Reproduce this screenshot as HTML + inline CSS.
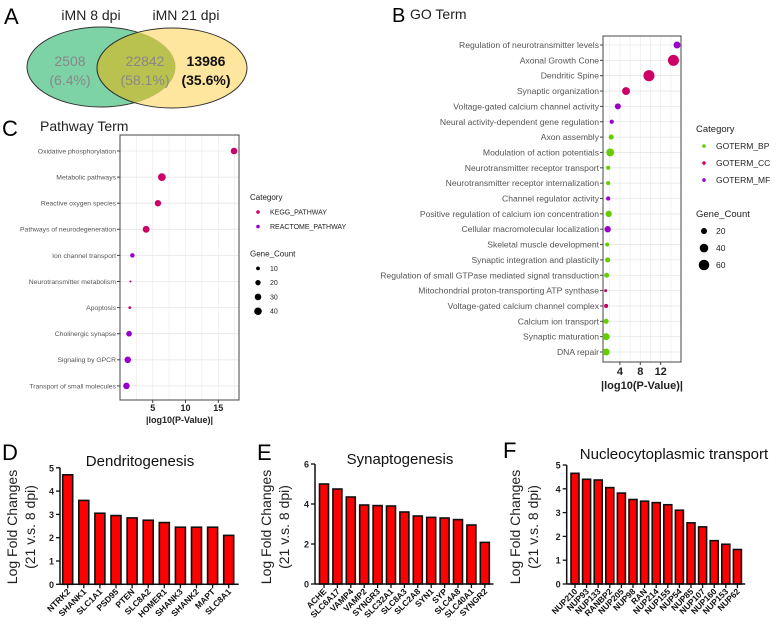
<!DOCTYPE html>
<html><head><meta charset="utf-8"><style>
html,body{margin:0;padding:0;background:#fff;}
svg{display:block;font-family:"Liberation Sans",sans-serif;}
</style></head><body>
<svg id="fig" width="777" height="627" viewBox="0 0 777 627">
<g>
<text x="4" y="24" font-size="22">A</text>
<text x="91" y="20" font-size="14" text-anchor="middle" fill="#222">iMN 8 dpi</text>
<text x="186" y="20" font-size="14" text-anchor="middle" fill="#222">iMN 21 dpi</text>
<ellipse cx="101" cy="67" rx="74" ry="40" fill="#7dd3a6" stroke="#333" stroke-width="1"/>
<ellipse cx="172" cy="68" rx="75" ry="40" fill="#fedd7e" fill-opacity="0.75" stroke="#333" stroke-width="1"/>
<clipPath id="cg"><ellipse cx="101" cy="67" rx="74" ry="40"/></clipPath>
<ellipse cx="172" cy="68" rx="75" ry="40" fill="#b9c24e" clip-path="url(#cg)" stroke="#333"/>
<text x="70" y="66" font-size="14" text-anchor="middle" fill="#888">2508</text>
<text x="70" y="85" font-size="14" text-anchor="middle" fill="#888">(6.4%)</text>
<text x="145" y="66" font-size="14" text-anchor="middle" fill="#888">22842</text>
<text x="145" y="85" font-size="14" text-anchor="middle" fill="#888">(58.1%)</text>
<text x="206" y="66" font-size="14" font-weight="bold" text-anchor="middle" fill="#111">13986</text>
<text x="206" y="85" font-size="14" font-weight="bold" text-anchor="middle" fill="#111">(35.6%)</text>
</g>
<text x="392" y="22" font-size="20">B</text>
<text x="410" y="19" font-size="14" fill="#222">GO Term</text>
<text x="2" y="136" font-size="22">C</text>
<text x="40" y="131" font-size="14" fill="#222">Pathway Term</text>
<g id="gB"></g><g id="gC"></g><g id="gD"></g><g id="gE"></g><g id="gF"></g>
</svg>
<script>
// ---- Panel B data ----
const goTerms=["Regulation of neurotransmitter levels","Axonal Growth Cone","Dendritic Spine","Synaptic organization","Voltage-gated calcium channel activity","Neural activity-dependent gene regulation","Axon assembly","Modulation of action potentials","Neurotransmitter receptor transport","Neurotransmitter receptor internalization","Channel regulator activity","Positive regulation of calcium ion concentration","Cellular macromolecular localization","Skeletal muscle development","Synaptic integration and plasticity","Regulation of small GTPase mediated signal transduction","Mitochondrial proton-transporting ATP synthase","Voltage-gated calcium channel complex","Calcium ion transport","Synaptic maturation","DNA repair"];
const goP=[15.2,14.5,9.7,5.2,3.6,2.4,2.3,2.1,1.7,1.7,1.7,1.8,1.6,1.5,1.6,1.4,1.2,1.3,1.3,1.3,1.3];
const goCount=[26,66,66,34,20,10,14,34,9,9,10,22,22,9,14,14,5,9,14,26,26];
const goCat=["MF","CC","CC","CC","MF","MF","BP","BP","BP","BP","MF","BP","MF","BP","BP","BP","CC","CC","BP","BP","BP"];
const goTicks=[4,8,12];
// ---- Panel C data ----
const pwTerms=["Oxidative phosphorylation","Metabolic pathways","Reactive oxygen species","Pathways of neurodegeneration","Ion channel transport","Neurotransmitter metabolism","Apoptosis","Cholinergic synapse","Signaling by GPCR","Transport of small molecules"];
const pwP=[17.4,6.4,5.8,4.0,1.9,1.6,1.5,1.4,1.2,1.0];
const pwCount=[30,42,28,32,14,3,5,22,30,30];
const pwCat=["KEGG","KEGG","KEGG","KEGG","REACTOME","KEGG","KEGG","REACTOME","REACTOME","REACTOME"];
const pwTicks=[5,10,15];
// ---- Bar data ----
const dGenes=["NTRK2","SHANK1","SLC1A1","PSD95","PTEN","SLC8A2","HOMER1","SHANK3","SHANK2","MAPT","SLC8A1"];
const dVals=[4.7,3.6,3.05,2.95,2.85,2.75,2.65,2.45,2.45,2.45,2.1];
const dTicks=[0,1,2,3,4,5];
const eGenes=["ACHE","SLC6A17","VAMP4","VAMP2","SYNGR3","SLC32A1","SLC8A3","SLC2A8","SYN1","SYP","SLC4A8","SLC40A1","SYNGR2"];
const eVals=[5.0,4.75,4.35,3.95,3.92,3.9,3.6,3.4,3.33,3.3,3.22,2.95,2.08];
const eTicks=[0,2,4,6];
const fGenes=["NUP210","NUP93","NUP133","RANBP2","NUP205","NUP98","RAN","NUP214","NUP155","NUP54","NUP85","NUP107","NUP160","NUP153","NUP62"];
const fVals=[4.65,4.4,4.37,4.05,3.82,3.55,3.48,3.42,3.33,3.1,2.57,2.4,1.82,1.67,1.45];
const fTicks=[0,1,2,3,4,5];

const NS="http://www.w3.org/2000/svg";
function mk(p,tag,a,txt){const e=document.createElementNS(NS,tag);for(const k in a)e.setAttribute(k,a[k]);if(txt!==undefined)e.textContent=txt;p.appendChild(e);return e;}
const colB={BP:"#66cc00",CC:"#cc0066",MF:"#9900cc"};
const colC={KEGG:"#cc0066",REACTOME:"#9900cc"};

function dot(o){
  const g=document.getElementById(o.id);
  const sx=v=>o.x0+(v-o.dmin)*o.k;
  const sy=i=>o.y0+i*o.step;
  const bg=mk(g,'rect',{x:o.L,y:o.T,width:o.R-o.L,height:o.B-o.T,fill:'#fff'});
  
  
  for(let v=o.dmin;v<=o.dmax;v+=o.minor){const x=sx(v);if(x>o.L&&x<o.R){const l=mk(g,'line',{x1:x,x2:x,y1:o.T,y2:o.B,stroke:'#ebebeb','stroke-width':0.7});}}
  o.terms.forEach((t,i)=>{const y=sy(i);const l=mk(g,'line',{x1:o.L,x2:o.R,y1:y,y2:y,stroke:'#e6e6e6','stroke-width':0.8});
    const tk=mk(g,'line',{x1:o.L-3,x2:o.L,y1:y,y2:y,stroke:'#444'});
    const tx=mk(g,'text',{x:o.L-4,y:y+o.fs*0.35,'font-size':o.fs,'text-anchor':'end',fill:'#555'},t);});
  const fr=mk(g,'rect',{x:o.L,y:o.T,width:o.R-o.L,height:o.B-o.T,fill:'none',stroke:'#444','stroke-width':1});
  
  o.ticks.forEach(v=>{const x=sx(v);const tk=mk(g,'line',{x1:x,x2:x,y1:o.B,y2:o.B+3,stroke:'#444'});
    const tx=mk(g,'text',{x:x,y:o.B+o.tfs+2,'font-size':o.tfs,'font-weight':'bold','text-anchor':'middle',fill:'#222'},v);});
  const at=mk(g,'text',{x:(o.L+o.R)/2,y:o.B+o.tfs*2+5,'font-size':o.tfs,'font-weight':'bold','text-anchor':'middle',fill:'#222'},'|log10(P-Value)|');
  
  o.p.forEach((v,i)=>{const c=mk(g,'circle',{cx:sx(v),cy:sy(i),r:o.rk*Math.sqrt(o.count[i]),fill:o.col[o.cat[i]]});
    });
  // legend
  let t=mk(g,'text',{x:o.lx,y:o.ly,'font-size':o.lfs+1,fill:'#222'},'Category');
  o.cats.forEach((c,j)=>{const y=o.ly+o.lstep*(j+1);const d=mk(g,'circle',{cx:o.lx+8,cy:y-o.lfs*0.35,r:1.8,fill:o.col[c]});
    const tt=mk(g,'text',{x:o.lx+20,y:y,'font-size':o.lfs,fill:'#222'},o.catNames[j]);});
  const gy=o.ly+o.lstep*(o.cats.length+1)+o.gap;
  t=mk(g,'text',{x:o.lx,y:gy,'font-size':o.lfs+1,fill:'#222'},'Gene_Count');
  o.sizes.forEach((s,j)=>{const y=gy+o.sstep*(j+1);const d=mk(g,'circle',{cx:o.lx+8,cy:y-o.lfs*0.35,r:o.rk*Math.sqrt(s),fill:'#000'});
    const tt=mk(g,'text',{x:o.lx+20,y:y,'font-size':o.lfs,fill:'#222'},s);});
}
dot({id:'gB',terms:goTerms,p:goP,count:goCount,cat:goCat,col:colB,ticks:goTicks,L:603,R:681,T:36,B:362,x0:599.5,dmin:0,dmax:16,k:5.1,minor:2,y0:45,step:15.35,fs:8.6,tfs:11,rk:0.68,
  lx:696,ly:132,lfs:8.5,lstep:17,cats:["BP","CC","MF"],catNames:["GOTERM_BP","GOTERM_CC","GOTERM_MF"],gap:17,sizes:[20,40,60],sstep:17});
dot({id:'gC',terms:pwTerms,p:pwP,count:pwCount,cat:pwCat,col:colC,ticks:pwTicks,L:120,R:239,T:135,B:400,x0:119.9,dmin:0,dmax:18,k:6.56,minor:2.5,y0:151,step:26.1,fs:6.8,tfs:9,rk:0.6,
  lx:250,ly:200,lfs:7,lstep:14.5,cats:["KEGG","REACTOME"],catNames:["KEGG_PATHWAY","REACTOME_PATHWAY"],gap:13,sizes:[10,20,30,40],sstep:14.3});

function bars(o){
  const g=document.getElementById(o.id);
  const sy=v=>o.y0-v*o.k;
  const sx=i=>o.c0+i*o.step;
  let t=mk(g,'text',{x:o.lx,y:o.lt,'font-size':22},o.letter);
  t=mk(g,'text',{x:o.tx,y:o.ty,'font-size':15,'text-anchor':'middle',fill:'#111'},o.title);
  [[o.yl1,'Log Fold Changes'],[o.yl1+18,'(21 v.s. 8 dpi)']].forEach(([x,s])=>{const tt=mk(g,'text',{x:x,y:527,'font-size':14,'text-anchor':'middle',fill:'#222',transform:`rotate(-90 ${x} 527)`},s);});
  o.vals.forEach((v,i)=>{const r=mk(g,'rect',{x:sx(i)-o.bw/2,y:sy(v),width:o.bw,height:o.y0-sy(v),fill:'#ff0000',stroke:'#111','stroke-width':1.6});
    
    const tk=mk(g,'line',{x1:sx(i),x2:sx(i),y1:o.y0,y2:o.y0+4,stroke:'#111','stroke-width':1.3});
    const lx=sx(i)+3,ly=o.y0+8;
    const tx=mk(g,'text',{x:lx,y:ly,'font-size':8.5,'font-weight':'bold','text-anchor':'end',fill:'#111',transform:`rotate(-45 ${lx} ${ly})`},o.genes[i]);});
  let a=mk(g,'line',{x1:o.ax,x2:o.ax,y1:sy(o.ticks[o.ticks.length-1]),y2:o.y0,stroke:'#111','stroke-width':1.5});
  a=mk(g,'line',{x1:o.ax,x2:sx(o.vals.length-1)+o.step/2+2,y1:o.y0,y2:o.y0,stroke:'#111','stroke-width':1.5});
  o.ticks.forEach(v=>{const y=sy(v);const tk=mk(g,'line',{x1:o.ax-4,x2:o.ax,y1:y,y2:y,stroke:'#111','stroke-width':1.3});
    const tx=mk(g,'text',{x:o.ax-6,y:y+3.5,'font-size':9,'font-weight':'bold','text-anchor':'end',fill:'#222'},v);});
}
bars({id:'gD',genes:dGenes,vals:dVals,ticks:dTicks,letter:'D',lx:2,lt:460,title:'Dendritogenesis',tx:140,ty:466,yl1:17,ax:60,y0:584.3,k:23.3,c0:67.7,step:16.1,bw:10});
bars({id:'gE',genes:eGenes,vals:eVals,ticks:eTicks,letter:'E',lx:257,lt:460,title:'Synaptogenesis',tx:400,ty:464,yl1:271,ax:315,y0:584,k:20,c0:324,step:13.4,bw:9});
bars({id:'gF',genes:fGenes,vals:fVals,ticks:fTicks,letter:'F',lx:503,lt:458,title:'Nucleocytoplasmic transport',tx:674,ty:459,yl1:520,ax:566.7,y0:584,k:23.8,c0:575,step:11.6,bw:8});
</script>
</body></html>
